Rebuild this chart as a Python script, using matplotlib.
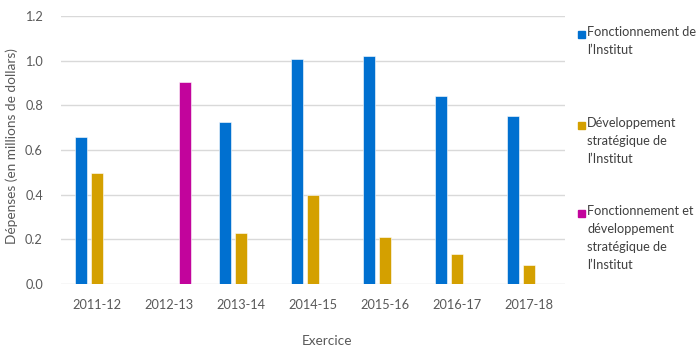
import numpy as np
import matplotlib.pyplot as plt
from matplotlib.patches import Rectangle

# Data
exercices = ['2011-12', '2012-13', '2013-14', '2014-15', '2015-16', '2016-17', '2017-18']
fonctionnement = [0.657, np.nan, 0.724, 1.007, 1.021, 0.840, 0.754]
developpement = [0.496, np.nan, 0.227, 0.398, 0.212, 0.134, 0.086]
fonct_et_dev = [np.nan, 0.905, np.nan, np.nan, np.nan, np.nan, np.nan]

noms = ['Fonctionnement de\nl\u2019Institut',
        'D\u00e9veloppement\nstrat\u00e9gique de\nl\u2019Institut',
        'Fonctionnement et\nd\u00e9veloppement\nstrat\u00e9gique de\nl\u2019Institut']
couleurs = ['#0070D0', '#D4A000', '#C2049C']

plt.rcParams['font.family'] = ['Lato', 'DejaVu Sans']

fig = plt.figure(figsize=(7, 3.49), dpi=100)
ax = fig.add_axes([61 / 700, 1 - 284 / 349, 504 / 700, 268 / 349])

x = np.arange(len(exercices))
w = 0.175
dx = 0.222
series = [fonctionnement, developpement, fonct_et_dev]
for i, vals in enumerate(series):
    ax.bar(x + (i - 1) * dx, vals, width=w, color=couleurs[i],
           edgecolor='#ffffff', linewidth=0.4, zorder=3)

ax.set_xlim(-0.5, len(exercices) - 0.5)
ax.set_ylim(0, 1.2)
ax.set_yticks(np.arange(0, 1.21, 0.2))
ax.set_yticklabels(['%.1f' % v for v in np.arange(0, 1.21, 0.2)])
ax.set_xticks(x)
ax.set_xticklabels(exercices)
ax.tick_params(length=0, labelsize=9.2, colors='#595959')
ax.tick_params(axis='x', pad=11)
ax.tick_params(axis='y', pad=13)
ax.grid(axis='y', color='#d9d9d9', linewidth=1, zorder=0)
for s in ax.spines.values():
    s.set_visible(False)

fig.text(12 / 700, 1 - 146 / 349, 'D\u00e9penses (en millions de dollars)', fontsize=9.8,
         color='#595959', rotation=90, ha='center', va='center')
fig.text(327 / 700, 1 - 341 / 349, 'Exercice', fontsize=9.8, color='#595959',
         ha='center', va='center')

# Legend drawn by hand
leg_y = [34, 125, 213]
for i in range(3):
    fig.patches.append(Rectangle((578 / 700, 1 - (leg_y[i] + 3.5) / 349), 7 / 700, 7 / 349,
                                 transform=fig.transFigure, color=couleurs[i]))
    fig.text(587 / 700, 1 - (leg_y[i] - 8) / 349, noms[i], fontsize=9.2, color='#404040',
             ha='left', va='top', linespacing=1.6)

fig.savefig('out.png', dpi=100)
